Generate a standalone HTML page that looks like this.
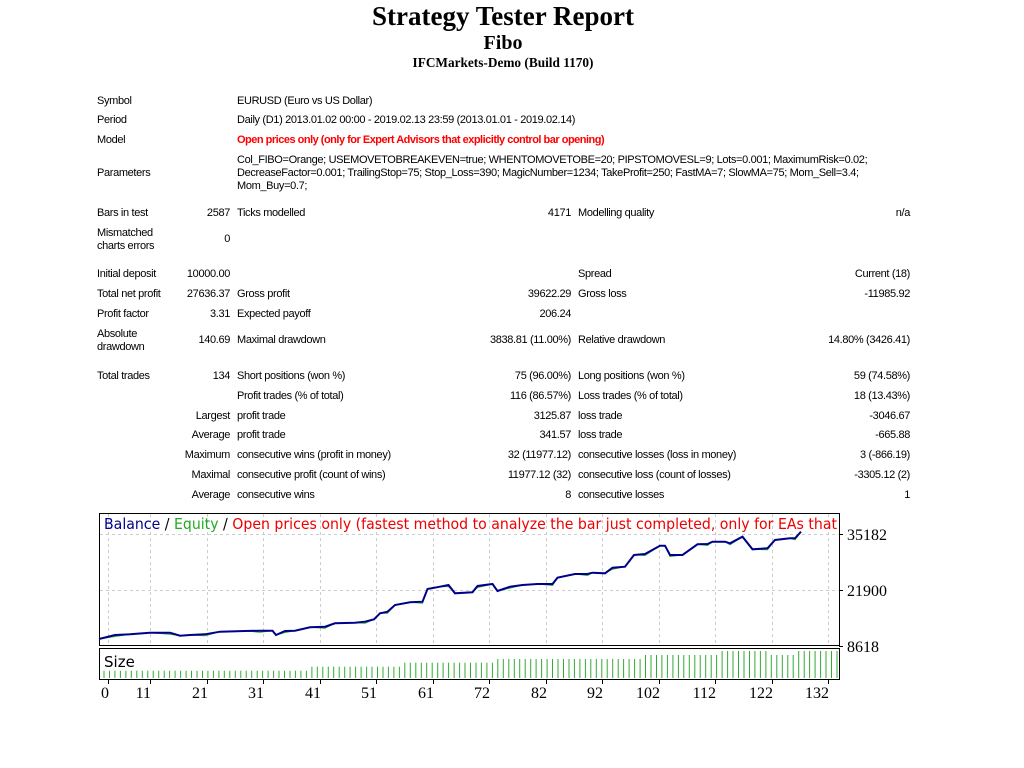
<!DOCTYPE html>
<html><head><meta charset="utf-8">
<style>
body{margin:0;width:1024px;height:768px;background:#fff;position:relative;overflow:hidden;font-family:"Liberation Sans","DejaVu Sans",sans-serif;}
.t{position:absolute;font-size:11px;line-height:14px;white-space:nowrap;letter-spacing:-0.35px;color:#000;}
.h{position:absolute;left:0;width:1006px;text-align:center;font-family:"Liberation Serif",serif;font-weight:bold;}
</style></head><body>
<div class="h" style="top:1px;font-size:27px;">Strategy Tester Report</div>
<div class="h" style="top:32px;font-size:20px;">Fibo</div>
<div class="h" style="top:55px;font-size:13.3px;">IFCMarkets-Demo (Build 1170)</div>
<div id="c"></div>
<svg width="1024" height="768" style="position:absolute;left:0;top:0" id="s"></svg>
<script>
(function(){
var c=document.getElementById('c'),h='';
function L(x,y,s,st){h+='<div class="t" style="left:'+x+'px;top:'+(y-7)+'px;'+(st||'')+'">'+s+'</div>';}
function R(x,y,s){h+='<div class="t" style="right:'+(1024-x)+'px;top:'+(y-7)+'px;">'+s+'</div>';}
L(97,101,'Symbol');L(237,101,'EURUSD (Euro vs US Dollar)');
L(97,120,'Period');L(237,120,'Daily (D1) 2013.01.02 00:00 - 2019.02.13 23:59 (2013.01.01 - 2019.02.14)');
L(97,140,'Model');L(237,140,'Open prices only (only for Expert Advisors that explicitly control bar opening)','color:#f00;font-weight:bold;letter-spacing:-0.5px');
L(97,173,'Parameters');
L(237,160,'Col_FIBO=Orange; USEMOVETOBREAKEVEN=true; WHENTOMOVETOBE=20; PIPSTOMOVESL=9; Lots=0.001; MaximumRisk=0.02;');
L(237,173,'DecreaseFactor=0.001; TrailingStop=75; Stop_Loss=390; MagicNumber=1234; TakeProfit=250; FastMA=7; SlowMA=75; Mom_Sell=3.4;');
L(237,186,'Mom_Buy=0.7;');
L(97,213,'Bars in test');R(230,213,'2587');L(237,213,'Ticks modelled');R(571,213,'4171');L(578,213,'Modelling quality');R(910,213,'n/a');
L(97,233,'Mismatched');L(97,246,'charts errors');R(230,239,'0');
L(97,274,'Initial deposit');R(230,274,'10000.00');L(578,274,'Spread');R(910,274,'Current (18)');
L(97,294,'Total net profit');R(230,294,'27636.37');L(237,294,'Gross profit');R(571,294,'39622.29');L(578,294,'Gross loss');R(910,294,'-11985.92');
L(97,314,'Profit factor');R(230,314,'3.31');L(237,314,'Expected payoff');R(571,314,'206.24');
L(97,334,'Absolute');L(97,347,'drawdown');R(230,340,'140.69');L(237,340,'Maximal drawdown');R(571,340,'3838.81 (11.00%)');L(578,340,'Relative drawdown');R(910,340,'14.80% (3426.41)');
L(97,376,'Total trades');R(230,376,'134');L(237,376,'Short positions (won %)');R(571,376,'75 (96.00%)');L(578,376,'Long positions (won %)');R(910,376,'59 (74.58%)');
L(237,396,'Profit trades (% of total)');R(571,396,'116 (86.57%)');L(578,396,'Loss trades (% of total)');R(910,396,'18 (13.43%)');
R(230,416,'Largest');L(237,416,'profit trade');R(571,416,'3125.87');L(578,416,'loss trade');R(910,416,'-3046.67');
R(230,435,'Average');L(237,435,'profit trade');R(571,435,'341.57');L(578,435,'loss trade');R(910,435,'-665.88');
R(230,455,'Maximum');L(237,455,'consecutive wins (profit in money)');R(571,455,'32 (11977.12)');L(578,455,'consecutive losses (loss in money)');R(910,455,'3 (-866.19)');
R(230,475,'Maximal');L(237,475,'consecutive profit (count of wins)');R(571,475,'11977.12 (32)');L(578,475,'consecutive loss (count of losses)');R(910,475,'-3305.12 (2)');
R(230,495,'Average');L(237,495,'consecutive wins');R(571,495,'8');L(578,495,'consecutive losses');R(910,495,'1');
c.innerHTML=h;

var g='';
g+='<rect x="99.5" y="513.5" width="740" height="132" fill="none" stroke="#000"/>';
g+='<rect x="99.5" y="648.5" width="740" height="31" fill="none" stroke="#000"/>';
var xs=[108];for(var k=0;k<13;k++)xs.push(Math.round(150+56.5*k));
xs.forEach(function(x){g+='<line x1="'+(x+0.5)+'" y1="514" x2="'+(x+0.5)+'" y2="645" stroke="#ccc" stroke-dasharray="3,3"/>';});
[534,590].forEach(function(y){g+='<line x1="100" y1="'+(y+0.5)+'" x2="839" y2="'+(y+0.5)+'" stroke="#ccc" stroke-dasharray="3,3"/>';});
var lbl=['0','11','21','31','41','51','61','72','82','92','102','112','122','132'];
xs.forEach(function(x,i){g+='<line x1="'+(x+0.5)+'" y1="680" x2="'+(x+0.5)+'" y2="684" stroke="#000"/><text x="'+(x+1)+'" y="698" font-family="Liberation Serif,serif" font-size="16" text-anchor="end">'+lbl[i]+'</text>';});
[[534,'35182'],[590,'21900'],[646,'8618']].forEach(function(a){g+='<line x1="839" y1="'+(a[0]+0.5)+'" x2="843" y2="'+(a[0]+0.5)+'" stroke="#000"/><text x="847" y="'+(a[0]+6)+'" font-family="Liberation Serif,serif" font-size="16">'+a[1]+'</text>';});
var tops=[[309,670.7],[404,666.7],[493,662.7],[644,659],[721,655],[770,651],[794,655],[900,651]];
for(var i=0;i<=134;i++){var x=104+i*5.47;var tp=651;for(var k=0;k<tops.length;k++){if(x<tops[k][0]){tp=tops[k][1];break;}}
g+='<line x1="'+x.toFixed(1)+'" y1="'+tp+'" x2="'+x.toFixed(1)+'" y2="678" stroke="#3a3" stroke-width="1"/>';}
var p=[[8,402],[40,390],[70,388],[110,383],[150,383],[170,392],[190,390],[220,388],[250,380],[300,378],[330,377],[355,377],[362,390],[380,378],[400,377],[430,367],[460,365],[480,355],[520,353],[540,350],[558,343],[570,325],[585,320],[600,300],[630,292],[655,290],[665,252],[690,245],[707,240],[720,265],[755,262],[765,243],[795,237],[805,258],[830,245],[855,240],[885,237],[915,237],[925,218],[960,207],[985,207],[995,203],[1020,205],[1035,188],[1060,185],[1078,150],[1100,147],[1130,122],[1140,122],[1150,150],[1175,150],[1205,118],[1225,117],[1235,110],[1260,110],[1270,115],[1295,95],[1315,133],[1345,130],[1360,105],[1390,100],[1400,100],[1412,80]];
var pts=p.map(function(a){return (95+a[0]/2).toFixed(1)+','+(505+a[1]/3).toFixed(1);}).join(' ');
var pe=p.map(function(a,i){var d=(i%3==1)?1.5:0;return (95+a[0]/2).toFixed(1)+','+(505+a[1]/3+d).toFixed(1);}).join(' ');
g+='<polyline points="'+pe+'" fill="none" stroke="#2a2" stroke-width="1"/>';
g+='<polyline points="'+pts+'" fill="none" stroke="#00008b" stroke-width="2"/>';
g+='<text x="104" y="529" font-family="DejaVu Sans,sans-serif" font-size="15" textLength="733" lengthAdjust="spacingAndGlyphs"><tspan fill="#00008b">Balance</tspan><tspan fill="#000"> / </tspan><tspan fill="#2a2">Equity</tspan><tspan fill="#000"> / </tspan><tspan fill="#e00">Open prices only (fastest method to analyze the bar just completed, only for EAs that</tspan></text>';
g+='<text x="104" y="667" font-family="DejaVu Sans,sans-serif" font-size="15">Size</text>';
document.getElementById('s').innerHTML=g;
})();
</script>
</body></html>
